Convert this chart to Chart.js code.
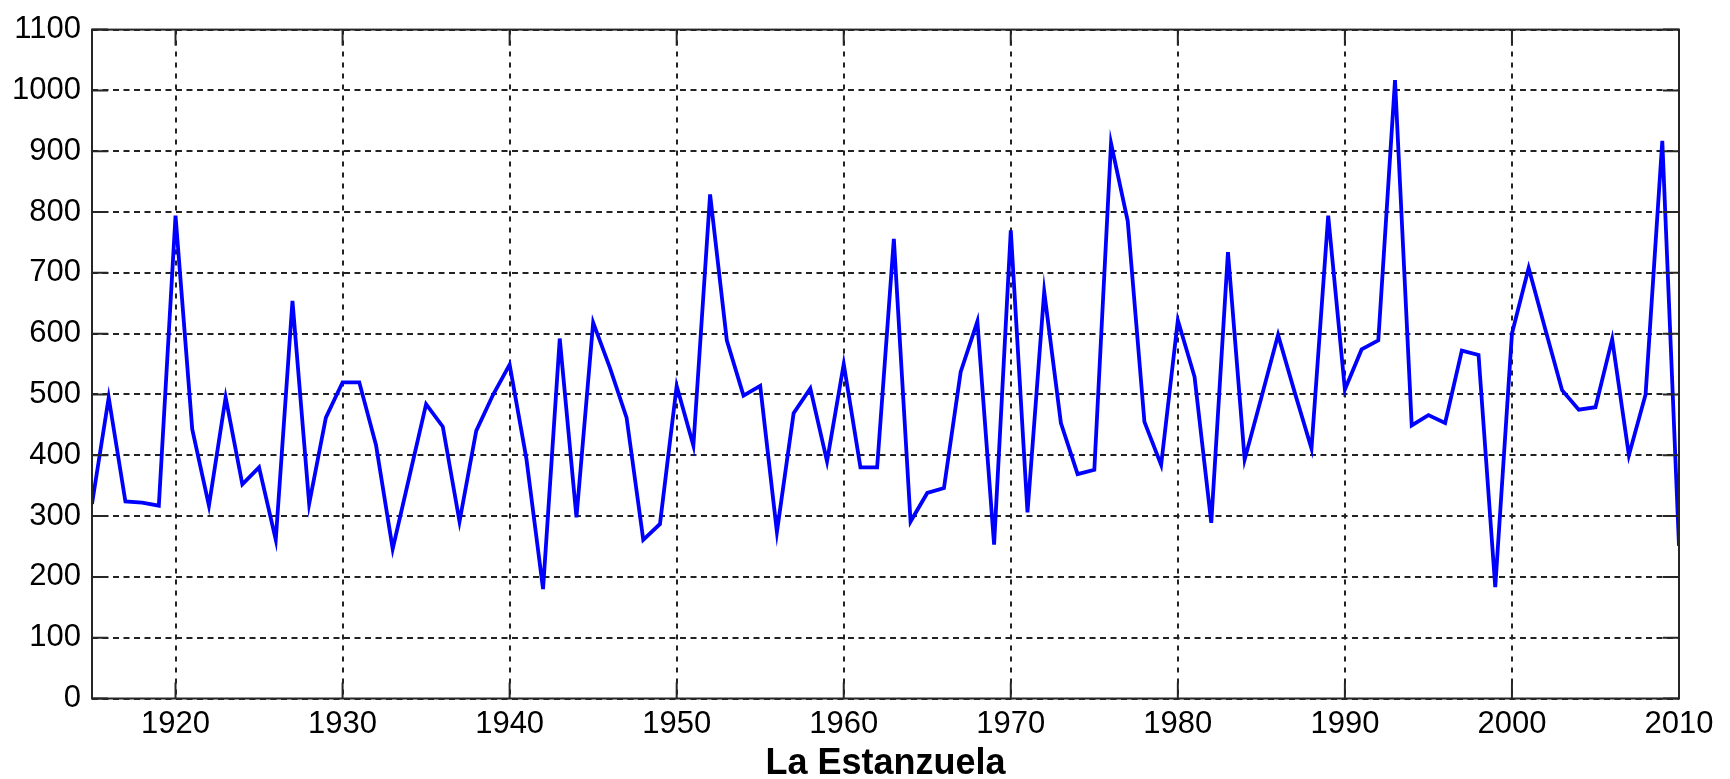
<!DOCTYPE html>
<html>
<head>
<meta charset="utf-8">
<script src="https://cdn.jsdelivr.net/npm/chart.js@4"></script>
<style>
html,body{margin:0;padding:0;background:#fff;}
#c{display:block;}
</style>
</head>
<body>
<canvas id="c" width="1730" height="779"></canvas>
<script>
const years = [];
for (let yr = 1915; yr <= 2010; yr++) years.push(yr);

const values = [
  320, 495, 324, 322, 317, 794, 443, 317, 495, 352,   // 1915-1924
  380, 261, 654, 320, 462, 520, 520, 417, 246, 365,   // 1925-1934
  484, 447, 291, 440, 499, 549, 395, 180, 592, 298,   // 1935-1944
  618, 544, 462, 261, 287, 514, 416, 829, 589, 498,   // 1945-1954
  514, 274, 469, 510, 390, 550, 380, 380, 756, 291,   // 1955-1964
  338, 346, 537, 620, 253, 770, 306, 669, 453, 369,   // 1965-1974
  376, 913, 785, 455, 384, 622, 529, 289, 734, 393,   // 1975-1984
  495, 598, 503, 411, 794, 508, 574, 589, 1017, 449,  // 1985-1994
  466, 453, 572, 565, 183, 600, 708, 607, 507, 475,   // 1995-2004
  479, 591, 400, 500, 917, 251                        // 2005-2010
];

const xTickValues = [1920, 1930, 1940, 1950, 1960, 1970, 1980, 1990, 2000, 2010];
const yTickValues = [0, 100, 200, 300, 400, 500, 600, 700, 800, 900, 1000, 1100];
const xAxisLabel = 'La Estanzuela';

const FONT = '"Liberation Sans", Arial, Helvetica, sans-serif';

const boxTicks = {
  id: 'boxTicks',
  afterDatasetsDraw(chart) {
    const {ctx, chartArea: a, scales: {x, y}} = chart;
    const L = 16;
    ctx.save();
    ctx.setLineDash([]);
    ctx.strokeStyle = '#262626';
    ctx.lineWidth = 2;
    ctx.beginPath();
    x.ticks.forEach(t => {
      const px = x.getPixelForValue(t.value);
      ctx.moveTo(px, a.bottom); ctx.lineTo(px, a.bottom - L);
      ctx.moveTo(px, a.top); ctx.lineTo(px, a.top + L);
    });
    y.ticks.forEach(t => {
      const py = y.getPixelForValue(t.value);
      ctx.moveTo(a.left, py); ctx.lineTo(a.left + L, py);
      ctx.moveTo(a.right, py); ctx.lineTo(a.right - L, py);
    });
    ctx.stroke();
    ctx.strokeRect(a.left, a.top, a.right - a.left, a.bottom - a.top);
    ctx.restore();
  }
};

new Chart(document.getElementById('c'), {
  type: 'line',
  data: {
    datasets: [{
      data: years.map((yr, i) => ({x: yr, y: values[i]})),
      borderColor: '#0000ff',
      borderWidth: 3.8,
      pointRadius: 0,
      tension: 0,
      fill: false
    }]
  },
  options: {
    responsive: false,
    animation: false,
    events: [],
    layout: {padding: {top: 22, right: 51, bottom: 0, left: 0}},
    plugins: {legend: {display: false}, tooltip: {enabled: false}, title: {display: false}},
    scales: {
      x: {
        type: 'linear',
        min: 1915,
        max: 2010,
        afterBuildTicks: s => { s.ticks = xTickValues.map(v => ({value: v})); },
        afterFit: s => { s.height = 80.5; },
        ticks: {
          autoSkip: false,
          maxRotation: 0,
          padding: 7,
          color: '#000',
          font: {family: FONT, size: 31},
          callback: v => String(v)
        },
        grid: {color: '#222', lineWidth: 2, drawTicks: false},
        border: {display: false, dash: [5, 6]},
        title: {
          display: true,
          text: xAxisLabel,
          color: '#000',
          font: {family: FONT, size: 36, weight: 'bold', lineHeight: 1},
          padding: {top: 0, bottom: -3}
        }
      },
      y: {
        type: 'linear',
        min: 0,
        max: 1100,
        afterBuildTicks: s => { s.ticks = yTickValues.map(v => ({value: v})); },
        afterFit: s => { s.width = 92; },
        ticks: {
          padding: 11,
          color: '#000',
          font: {family: FONT, size: 31},
          callback: v => String(v)
        },
        grid: {color: '#222', lineWidth: 2, drawTicks: false},
        border: {display: false, dash: [6, 4.5]}
      }
    }
  },
  plugins: [boxTicks]
});
</script>
</body>
</html>
